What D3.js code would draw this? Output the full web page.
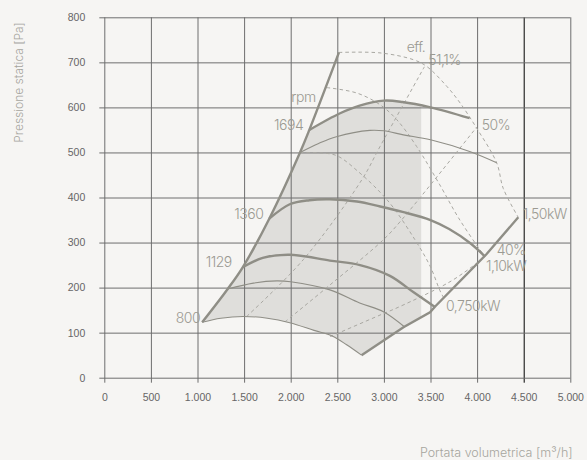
<!DOCTYPE html>
<html>
<head>
<meta charset="utf-8">
<script src="https://cdn.jsdelivr.net/npm/d3@7"></script>
<style>
  body { margin: 0; background: #f6f5f3; }
  svg { display: block; }
</style>
</head>
<body>
<div id="chart"></div>
<script>
// axis ticks
var xTicks = [0, 500, 1000, 1500, 2000, 2500, 3000, 3500, 4000, 4500, 5000]
var yTicks = [0, 100, 200, 300, 400, 500, 600, 700, 800]

// fan curves [m3/h, Pa]
var surge = [[1050, 123], [1324, 197], [1485, 245], [1770, 353], [2100, 500], [2200, 550], [2518, 722]]
var rpm1694 = [[2200, 550], [2530, 587], [2740, 604], [3000, 615], [3200, 612], [3500, 600], [3920, 576]]
var rpm1694low = [[2100, 500], [2300, 520], [2490, 535], [2850, 549], [3000, 548], [3210, 539], [3500, 528], [3920, 502], [4210, 477]]
var rpm1360 = [[1770, 353], [1990, 385], [2200, 394], [2420, 396], [2710, 391], [2960, 380], [3200, 368], [3500, 350], [3700, 330], [3924, 299], [4085, 269]]
var rpm1129 = [[1485, 245], [1700, 266], [1990, 273], [2420, 260], [2744, 250], [3065, 226], [3315, 190], [3548, 157]]
var rpm1129low = [[1324, 197], [1600, 210], [1850, 215], [2000, 213], [2420, 195], [2740, 166], [3000, 146], [3226, 112]]
var rpm800 = [[1050, 123], [1250, 132], [1490, 136], [1750, 132], [1990, 122], [2250, 105], [2450, 92], [2600, 73], [2760, 50]]
var maxFlow = [[2760, 50], [3210, 112], [3495, 145], [3550, 158], [4100, 274], [4442, 356]]

// dashed curves
var effOuter = [[2518, 722], [2958, 721], [3315, 706], [3459, 691], [3674, 647], [3817, 610], [3995, 554], [4210, 477], [4281, 420], [4442, 356]]
var effMid = [[2386, 644], [2708, 632], [2958, 606], [3137, 573], [3352, 513], [3600, 428], [3800, 355], [4030, 284], [4085, 269]]
var effInner = [[2100, 500], [2300, 499], [2493, 493], [2744, 454], [2958, 412], [3100, 378], [3334, 306], [3495, 248], [3602, 193], [3640, 178]]
var sys1 = [[1528, 136], [2135, 262], [2762, 439], [2958, 513], [3434, 690]]
var sys2 = [[1939, 124], [2422, 206], [2993, 306], [3177, 347], [3995, 556]]
var sys3 = [[2422, 91], [2958, 139], [3172, 158], [3709, 213], [3995, 254], [4085, 269]]

var shadeLimit = 3400

// annotations: text, anchor point in data units, text-anchor
var labels = [
    { text: '800', x: 1028, y: 121, anchor: 'end' },
    { text: '1129', x: 1367, y: 245, anchor: 'end' },
    { text: '1360', x: 1706, y: 353, anchor: 'end' },
    { text: '1694', x: 2135, y: 549, anchor: 'end' },
    { text: 'rpm', x: 2268, y: 613, anchor: 'end' },
    { text: 'eff.', x: 3245, y: 724, anchor: 'start' },
    { text: '51,1%', x: 3476, y: 695, anchor: 'start' },
    { text: '50%', x: 4049, y: 550, anchor: 'start' },
    { text: '1,50kW', x: 4489, y: 352, anchor: 'start' },
    { text: '40%', x: 4210, y: 273, anchor: 'start' },
    { text: '1,10kW', x: 4095, y: 237, anchor: 'start' },
    { text: '0,750kW', x: 3666, y: 149, anchor: 'start' }
]

var width = 587
var height = 460
var margin = { top: 17.3, right: 16.7, bottom: 82.3, left: 104.3 }
var lineColor = '#8f8e86'

var svg = d3.select('#chart').append('svg')
    .attr('width', width)
    .attr('height', height)

var x = d3.scaleLinear().domain([0, 5000]).range([margin.left, width - margin.right])
var y = d3.scaleLinear().domain([0, 800]).range([height - margin.bottom, margin.top])

var curve = d3.line()
    .x(d => x(d[0]))
    .y(d => y(d[1]))
    .curve(d3.curveCatmullRom.alpha(0.5))

var straight = d3.line()
    .x(d => x(d[0]))
    .y(d => y(d[1]))

// shaded working area
svg.append('clipPath')
    .attr('id', 'shadeClip')
    .append('rect')
    .attr('x', 0)
    .attr('y', 0)
    .attr('width', x(shadeLimit))
    .attr('height', height)

var shadePath = curve(surge.filter(d => d[0] <= 2200))
    + curve(rpm1694).replace(/^M/, 'L')
    + straight(maxFlow.slice().reverse()).replace(/^M/, 'L')
    + curve(rpm800.slice().reverse()).replace(/^M/, 'L')
    + 'Z'

svg.append('path')
    .attr('d', shadePath)
    .attr('fill', '#dfdedb')
    .attr('clip-path', 'url(#shadeClip)')

// grid + ticks
var plotH = y(0) - y(800)
var plotW = x(5000) - x(0)

var xAxis = svg.append('g')
    .attr('transform', 'translate(0,' + (y(0) + 5) + ')')
    .call(d3.axisBottom(x).tickValues(xTicks).tickSize(-(plotH + 5)).tickSizeOuter(0)
        .tickFormat(d => d3.format(',')(d).replace(/,/g, '.')))
xAxis.select('.domain').remove()
xAxis.selectAll('line')
    .attr('stroke', d => d == 4500 ? '#000' : '#6e6e6e')
xAxis.selectAll('text')
    .attr('y', 18.3)
    .attr('dy', 0)
    .attr('fill', '#666')
    .style('font-family', '"Liberation Sans", Arial, sans-serif')
    .style('font-size', '10.5px')

var yAxis = svg.append('g')
    .attr('transform', 'translate(' + (x(0) - 5) + ',0)')
    .call(d3.axisLeft(y).tickValues(yTicks).tickSize(-(plotW + 5)).tickSizeOuter(0))
yAxis.select('.domain').remove()
yAxis.selectAll('line').attr('stroke', '#6e6e6e')
yAxis.selectAll('text')
    .attr('x', -14)
    .attr('fill', '#666')
    .style('font-family', '"Liberation Sans", Arial, sans-serif')
    .style('font-size', '10.5px')

// dashed efficiency / system curves
var dashed = [effOuter, effMid, effInner, sys1, sys2, sys3]
svg.append('g')
    .selectAll('path')
    .data(dashed)
    .join('path')
    .attr('d', d => curve(d))
    .attr('fill', 'none')
    .attr('stroke', '#a9a8a2')
    .attr('stroke-width', 1)
    .attr('stroke-dasharray', '3.5,3')

// thin curves
svg.append('g')
    .selectAll('path')
    .data([rpm1694low, rpm1129low, rpm800])
    .join('path')
    .attr('d', d => curve(d))
    .attr('fill', 'none')
    .attr('stroke', lineColor)
    .attr('stroke-width', 1.1)

// thick curves
svg.append('g')
    .selectAll('path')
    .data([surge, rpm1694, rpm1360, rpm1129])
    .join('path')
    .attr('d', d => curve(d))
    .attr('fill', 'none')
    .attr('stroke', lineColor)
    .attr('stroke-width', 2.4)

svg.append('path')
    .attr('d', straight(maxFlow))
    .attr('fill', 'none')
    .attr('stroke', lineColor)
    .attr('stroke-width', 2.4)

// annotations
svg.append('g')
    .selectAll('text')
    .data(labels)
    .join('text')
    .attr('x', d => x(d.x))
    .attr('y', d => y(d.y))
    .attr('text-anchor', d => d.anchor)
    .attr('fill', '#9b9a92')
    .style('font-family', 'Inter, "Noto Sans", sans-serif')
    .style('font-weight', 300)
    .style('font-size', '14px')
    .style('letter-spacing', '-0.5px')
    .text(d => d.text)

// axis titles
svg.append('text')
    .attr('transform', 'translate(23,82.5) rotate(-90)')
    .attr('text-anchor', 'middle')
    .attr('fill', '#a6a59e')
    .style('font-family', 'Inter, "Noto Sans", sans-serif')
    .style('font-weight', 300)
    .style('font-size', '12px')
    .text('Pressione statica [Pa]')

svg.append('text')
    .attr('x', 572.7)
    .attr('y', 457)
    .attr('text-anchor', 'end')
    .attr('fill', '#a6a59e')
    .style('font-family', 'Inter, "Noto Sans", sans-serif')
    .style('font-weight', 300)
    .style('font-size', '12.5px')
    .text('Portata volumetrica [m³/h]')
</script>
</body>
</html>
